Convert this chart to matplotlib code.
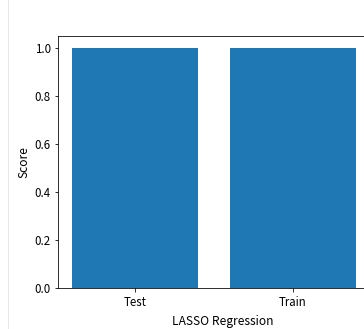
import matplotlib
matplotlib.use("Agg")
import matplotlib.pyplot as plt
from matplotlib.lines import Line2D

plt.rcParams['font.family'] = ['Noto Sans CJK KR', 'DejaVu Sans']
plt.rcParams['font.size'] = 12

labels = ['Test', 'Train']
scores = [1.0, 1.0]

fig = plt.figure(figsize=(364/72, 329/72), dpi=72)
ax = fig.add_axes([58/364, 41/329, 330/364, 252/329])

ax.bar(labels, scores, color='#1f77b4')
ax.set_xlim(-0.49, -0.49 + 1.98 * 330 / 312)
ax.set_ylabel('Score')
ax.set_xlabel('LASSO Regression', labelpad=5)
ax.set_yticks([0.0, 0.2, 0.4, 0.6, 0.8, 1.0])
ax.tick_params(labelsize=11.5)
ax.tick_params(axis='x', pad=5)
ax.spines['right'].set_visible(False)

# faint notebook cell border on the left
fig.add_artist(Line2D([8/364, 8/364], [0, 1], transform=fig.transFigure,
                      color='#e6e6e6', linewidth=1))

fig.savefig('out.png', dpi=72)
